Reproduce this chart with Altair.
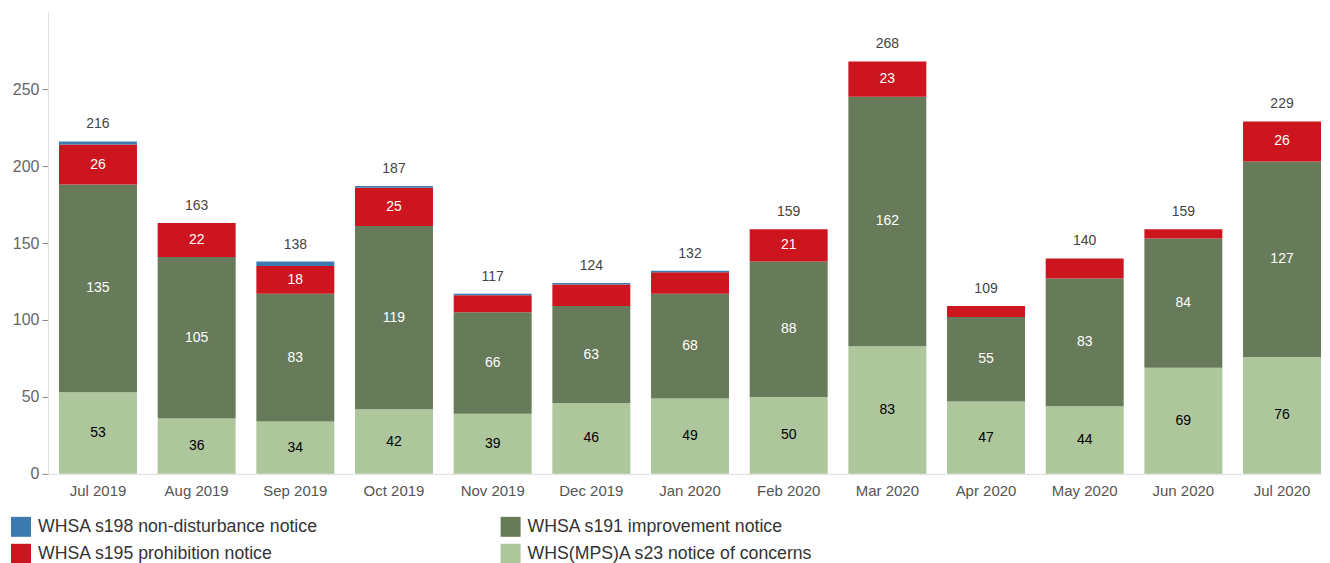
import altair as alt
import pandas as pd

months = ["Jul 2019", "Aug 2019", "Sep 2019", "Oct 2019", "Nov 2019", "Dec 2019",
          "Jan 2020", "Feb 2020", "Mar 2020", "Apr 2020", "May 2020", "Jun 2020", "Jul 2020"]
s23 = [53, 36, 34, 42, 39, 46, 49, 50, 83, 47, 44, 69, 76]
s191 = [135, 105, 83, 119, 66, 63, 68, 88, 162, 55, 83, 84, 127]
s195 = [26, 22, 18, 25, 11, 14, 14, 21, 23, 7, 13, 6, 26]
s198 = [2, 0, 3, 1, 1, 1, 1, 0, 0, 0, 0, 0, 0]

# legend order (column-major fill): col 1 = s198, s195; col 2 = s191, s23
series_names = ["WHSA s198 non-disturbance notice", "WHSA s195 prohibition notice",
                "WHSA s191 improvement notice", "WHS(MPS)A s23 notice of concerns"]
series_colors = ["#3b7bb0", "#cd151f", "#677a5a", "#adc69c"]
stack_order = {"WHS(MPS)A s23 notice of concerns": 0, "WHSA s191 improvement notice": 1,
               "WHSA s195 prohibition notice": 2, "WHSA s198 non-disturbance notice": 3}
label_colors = {"WHS(MPS)A s23 notice of concerns": "black", "WHSA s191 improvement notice": "white",
                "WHSA s195 prohibition notice": "white", "WHSA s198 non-disturbance notice": "white"}

rows = []
for name, vals in [("WHS(MPS)A s23 notice of concerns", s23), ("WHSA s191 improvement notice", s191),
                   ("WHSA s195 prohibition notice", s195), ("WHSA s198 non-disturbance notice", s198)]:
    for m, v in zip(months, vals):
        rows.append({"month": m, "series": name, "value": v, "ord": stack_order[name],
                     "lc": label_colors[name]})
df = pd.DataFrame(rows)

xscale = alt.Scale(paddingInner=0.21, paddingOuter=0.061, align=0.917)
xenc = alt.X("month:N", sort=months, title=None, scale=xscale,
             axis=alt.Axis(labelAngle=0, labelFontSize=15, labelColor="#555", ticks=False,
                           domainColor="#dddddd", labelPadding=10, labelFont="Liberation Sans"))

base = alt.Chart(df).transform_stack(
    stack="value", groupby=["month"], as_=["y0", "y1"],
    sort=[alt.SortField("ord", order="ascending")]
)

bars = base.mark_bar().encode(
    x=xenc,
    y=alt.Y("y0:Q", title=None, scale=alt.Scale(domain=[0, 300], nice=False),
            axis=alt.Axis(values=[0, 50, 100, 150, 200, 250], grid=False, labelFontSize=16,
                          labelColor="#666", domainColor="#e0e0e0", tickColor="#888",
                          tickSize=6, labelPadding=3, labelFont="Liberation Sans")),
    y2="y1:Q",
    color=alt.Color("series:N", scale=alt.Scale(domain=series_names, range=series_colors),
                    legend=alt.Legend(title=None, orient="none", legendX=-37, legendY=505,
                                      columns=2, columnPadding=182, rowPadding=7,
                                      symbolType="square", symbolSize=400,
                                      symbolStrokeWidth=0, symbolOpacity=1,
                                      labelFontSize=17.7, labelColor="#333", labelOffset=7,
                                      labelFont="Liberation Sans", labelLimit=400)),
)

seg_labels = base.transform_filter("datum.value >= 15").transform_calculate(
    mid="(datum.y0 + datum.y1) / 2"
).mark_text(fontSize=14, font="Liberation Sans").encode(
    x=alt.X("month:N", sort=months),
    y="mid:Q",
    text="value:Q",
    color=alt.Color("lc:N", scale=None),
)

totals = alt.Chart(df).mark_text(fontSize=14, color="#444", baseline="bottom", dy=-10,
                                 font="Liberation Sans").encode(
    x=alt.X("month:N", sort=months),
    y=alt.Y("sum(value):Q"),
    text=alt.Text("sum(value):Q"),
)

chart = alt.layer(bars, seg_labels, totals).properties(
    width=1275, height=462,
    padding={"left": 3, "top": 4, "right": 0, "bottom": 0},
).configure_view(stroke=None)

chart.save("out.html", embed_options={"renderer": "svg", "actions": False})
